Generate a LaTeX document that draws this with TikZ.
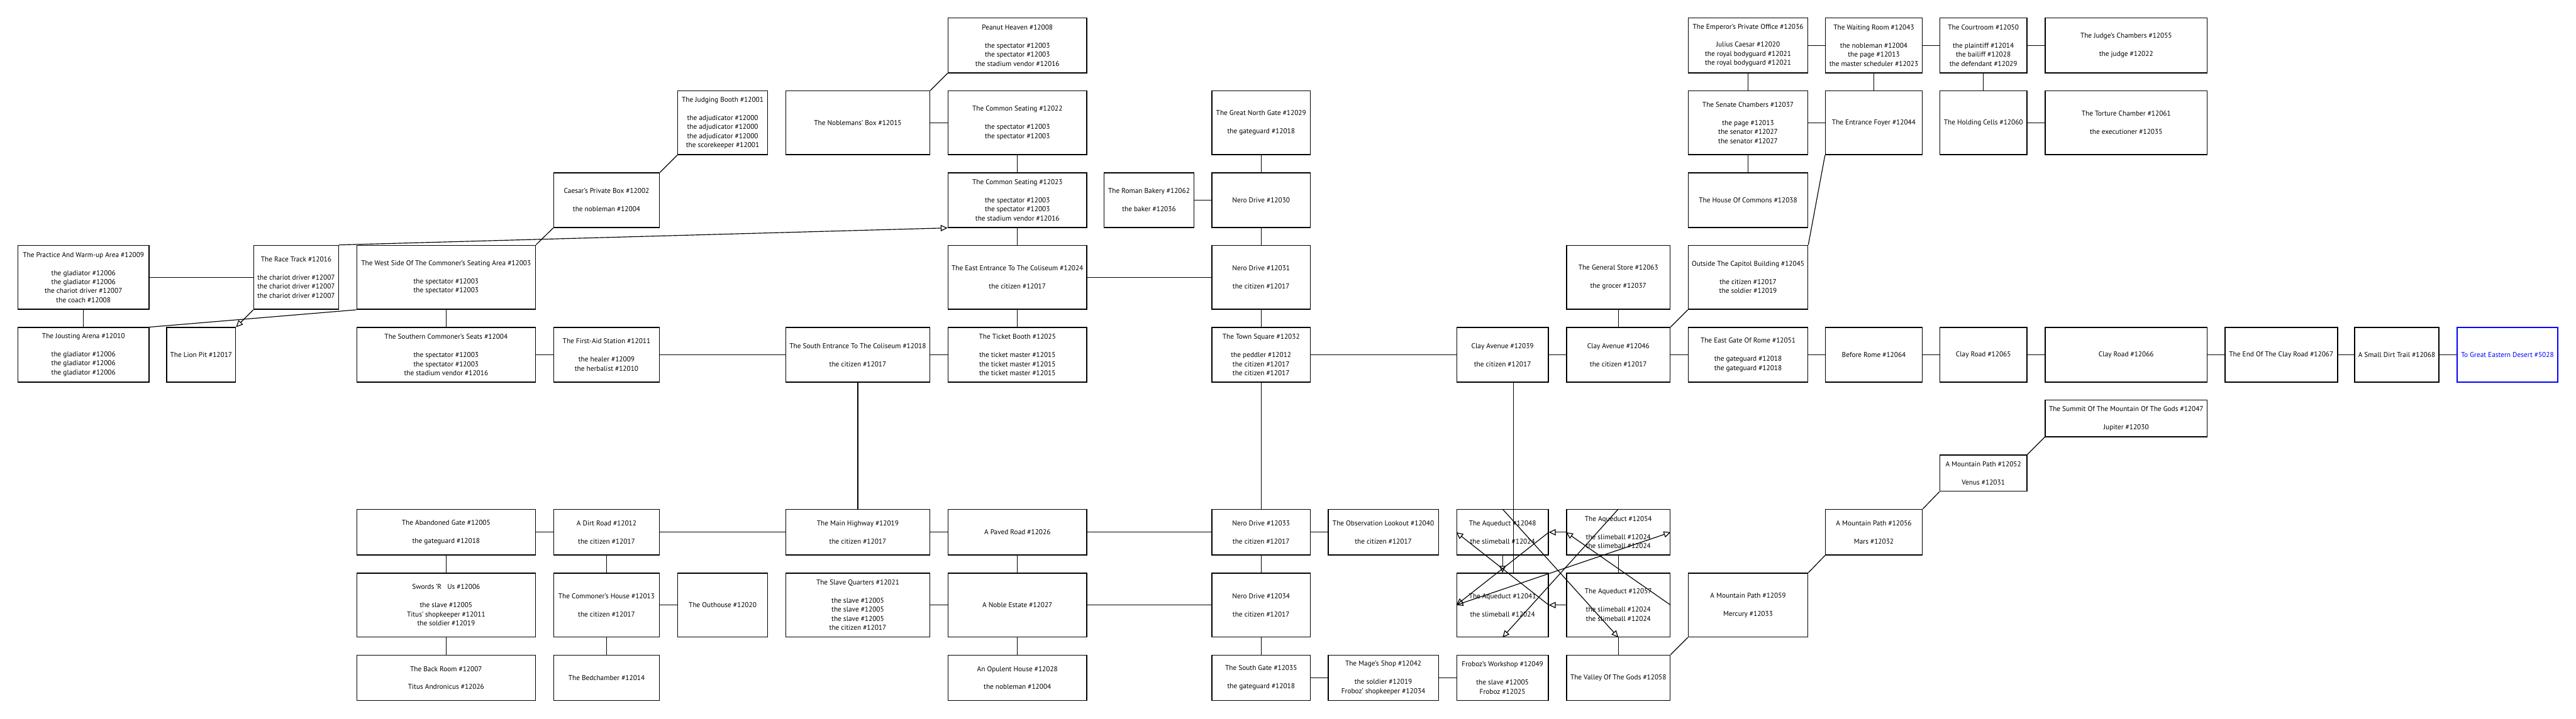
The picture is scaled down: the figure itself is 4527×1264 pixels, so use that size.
\documentclass[tikz,border=0pt]{standalone}
\usepackage{fontspec}
\setmainfont{PT Sans}
\usetikzlibrary{arrows.meta}
\tikzset{
  room/.style={draw=black, line width=1.6pt, inner sep=0pt, align=center, font=\fontsize{12.5}{16}\selectfont, fill=white},
  exitroom/.style={room, draw=blue, text=blue},
  link/.style={line width=1.3pt},
  arr/.style={link, -{Triangle[open, length=12pt, width=11pt]}},
  arrboth/.style={link, {Triangle[open, length=12pt, width=11pt]}-{Triangle[open, length=12pt, width=11pt]}}
}
\newcommand\gap{\\[16pt]}
\newcommand\roombox[7][]{\node[room,#1, minimum width={(#5)-(#3)}, minimum height={(#6)-(#4)}] (#2) at ({((#3)+(#5))/2},{((#4)+(#6))/2}) {#7};}
\begin{document}
\begin{tikzpicture}[x=1pt,y=-1pt]
\useasboundingbox (0,0) rectangle (4527,1264);
% ---- rooms ----
\roombox{practice}{31.5}{431.5}{262}{544}{The Practice And Warm-up Area \#12009\gap the gladiator \#12006\\the gladiator \#12006\\the chariot driver \#12007\\the coach \#12008}
\roombox{race}{446}{431.5}{595}{544}{The Race Track \#12016\gap the chariot driver \#12007\\the chariot driver \#12007\\the chariot driver \#12007}
\roombox{west}{627}{431.5}{941}{544}{The West Side Of The Commoner's Seating Area \#12003\gap the spectator \#12003\\the spectator \#12003}
\roombox{joust}{31.5}{576}{262}{672}{The Jousting Arena \#12010\gap the gladiator \#12006\\the gladiator \#12006\\the gladiator \#12006}
\roombox{lion}{293}{576}{414}{672}{The Lion Pit \#12017}
\roombox{southern}{627}{576}{941}{672}{The Southern Commoner's Seats \#12004\gap the spectator \#12003\\the spectator \#12003\\the stadium vendor \#12016}
\roombox{abandoned}{627}{896}{941}{976}{The Abandoned Gate \#12005\gap the gateguard \#12018}
\roombox{swords}{627}{1008}{941}{1120}{Swords 'R\hspace{10pt}Us \#12006\gap the slave \#12005\\Titus' shopkeeper \#12011\\the soldier \#12019}
\roombox{backroom}{627}{1152}{941}{1232}{The Back Room \#12007\gap Titus Andronicus \#12026}
\roombox{caesar}{973}{304}{1159}{400}{Caesar's Private Box \#12002\gap the nobleman \#12004}
\roombox{judging}{1191}{160}{1349}{272}{The Judging Booth \#12001\gap the adjudicator \#12000\\the adjudicator \#12000\\the adjudicator \#12000\\the scorekeeper \#12001}
\roombox{firstaid}{973}{576}{1159}{672}{The First-Aid Station \#12011\gap the healer \#12009\\the herbalist \#12010}
\roombox{dirt}{973}{896}{1159}{976}{A Dirt Road \#12012\gap the citizen \#12017}
\roombox{commoner}{973}{1008}{1159}{1120}{The Commoner's House \#12013\gap the citizen \#12017}
\roombox{outhouse}{1191}{1008}{1349}{1120}{The Outhouse \#12020}
\roombox{bedchamber}{973}{1152}{1159}{1232}{The Bedchamber \#12014}
\roombox{noblebox}{1381}{160}{1634}{272}{The Noblemans' Box \#12015}
\roombox{southent}{1381}{576}{1634}{672}{The South Entrance To The Coliseum \#12018\gap the citizen \#12017}
\roombox{mainhw}{1381}{896}{1634}{976}{The Main Highway \#12019\gap the citizen \#12017}
\roombox{slaveq}{1381}{1008}{1634}{1120}{The Slave Quarters \#12021\gap the slave \#12005\\the slave \#12005\\the slave \#12005\\the citizen \#12017}
\roombox{peanut}{1666}{31.5}{1910}{128}{Peanut Heaven \#12008\gap the spectator \#12003\\the spectator \#12003\\the stadium vendor \#12016}
\roombox{cs22}{1666}{160}{1910}{272}{The Common Seating \#12022\gap the spectator \#12003\\the spectator \#12003}
\roombox{cs23}{1666}{304}{1910}{400}{The Common Seating \#12023\gap the spectator \#12003\\the spectator \#12003\\the stadium vendor \#12016}
\roombox{eastent}{1666}{431.5}{1910}{544}{The East Entrance To The Coliseum \#12024\gap the citizen \#12017}
\roombox{ticket}{1666}{576}{1910}{672}{The Ticket Booth \#12025\gap the ticket master \#12015\\the ticket master \#12015\\the ticket master \#12015}
\roombox{paved}{1666}{896}{1910}{976}{A Paved Road \#12026}
\roombox{nobleest}{1666}{1008}{1910}{1120}{A Noble Estate \#12027}
\roombox{opulent}{1666}{1152}{1910}{1232}{An Opulent House \#12028\gap the nobleman \#12004}
\roombox{bakery}{1940.5}{304}{2098}{400}{The Roman Bakery \#12062\gap the baker \#12036}
\roombox{northgate}{2129.5}{160}{2303}{272}{The Great North Gate \#12029\gap the gateguard \#12018}
\roombox{nero30}{2129.5}{304}{2303}{400}{Nero Drive \#12030}
\roombox{nero31}{2129.5}{431.5}{2303}{544}{Nero Drive \#12031\gap the citizen \#12017}
\roombox{townsq}{2129.5}{576}{2303}{672}{The Town Square \#12032\gap the peddler \#12012\\the citizen \#12017\\the citizen \#12017}
\roombox{nero33}{2129.5}{896}{2303}{976}{Nero Drive \#12033\gap the citizen \#12017}
\roombox{nero34}{2129.5}{1008}{2303}{1120}{Nero Drive \#12034\gap the citizen \#12017}
\roombox{southgate}{2129.5}{1152}{2303}{1232}{The South Gate \#12035\gap the gateguard \#12018}
\roombox{lookout}{2334}{896}{2528}{976}{The Observation Lookout \#12040\gap the citizen \#12017}
\roombox{mage}{2334}{1152}{2528}{1232}{The Mage's Shop \#12042\gap the soldier \#12019\\Froboz' shopkeeper \#12034}
\roombox{clay39}{2560}{576}{2721}{672}{Clay Avenue \#12039\gap the citizen \#12017}
\roombox{aq48}{2560}{896}{2721}{976}{The Aqueduct \#12048\gap the slimeball \#12024}
\roombox{aq41}{2560}{1008}{2721}{1120}{The Aqueduct \#12041\gap the slimeball \#12024}
\roombox{froboz}{2560}{1152}{2721}{1232}{Froboz's Workshop \#12049\gap the slave \#12005\\Froboz \#12025}
\roombox{store}{2753}{431.5}{2935}{544}{The General Store \#12063\gap the grocer \#12037}
\roombox{clay46}{2753}{576}{2935}{672}{Clay Avenue \#12046\gap the citizen \#12017}
\roombox{aq54}{2753}{896}{2935}{976}{The Aqueduct \#12054\gap the slimeball \#12024\\the slimeball \#12024}
\roombox{aq57}{2753}{1008}{2935}{1120}{The Aqueduct \#12057\gap the slimeball \#12024\\the slimeball \#12024}
\roombox{valley}{2753}{1152}{2935}{1232}{The Valley Of The Gods \#12058}
\roombox{emperor}{2967}{31.5}{3177}{128}{The Emperor's Private Office \#12036\gap Julius Caesar \#12020\\the royal bodyguard \#12021\\the royal bodyguard \#12021}
\roombox{senate}{2967}{160}{3177}{272}{The Senate Chambers \#12037\gap the page \#12013\\the senator \#12027\\the senator \#12027}
\roombox{commons}{2967}{304}{3177}{400}{The House Of Commons \#12038}
\roombox{capitol}{2967}{431.5}{3177}{544}{Outside The Capitol Building \#12045\gap the citizen \#12017\\the soldier \#12019}
\roombox{eastgate}{2967}{576}{3177}{672}{The East Gate Of Rome \#12051\gap the gateguard \#12018\\the gateguard \#12018}
\roombox{mp59}{2967}{1008}{3177}{1120}{A Mountain Path \#12059\gap Mercury \#12033}
\roombox{waiting}{3208}{31.5}{3378}{128}{The Waiting Room \#12043\gap the nobleman \#12004\\the page \#12013\\the master scheduler \#12023}
\roombox{foyer}{3208}{160}{3378}{272}{The Entrance Foyer \#12044}
\roombox{beforerome}{3208}{576}{3378}{672}{Before Rome \#12064}
\roombox{mp56}{3208}{896}{3378}{976}{A Mountain Path \#12056\gap Mars \#12032}
\roombox{court}{3409}{31.5}{3562}{128}{The Courtroom \#12050\gap the plaintiff \#12014\\the bailiff \#12028\\the defendant \#12029}
\roombox{holding}{3409}{160}{3562}{272}{The Holding Cells \#12060}
\roombox{clay65}{3409}{576}{3562}{672}{Clay Road \#12065}
\roombox{mp52}{3409}{800}{3562}{864}{A Mountain Path \#12052\gap Venus \#12031}
\roombox{judge}{3594}{31.5}{3879}{128}{The Judge's Chambers \#12055\gap the judge \#12022}
\roombox{torture}{3594}{160}{3879}{272}{The Torture Chamber \#12061\gap the executioner \#12035}
\roombox{clay66}{3594}{576}{3879}{672}{Clay Road \#12066}
\roombox{summit}{3594}{703.5}{3879}{768}{The Summit Of The Mountain Of The Gods \#12047\gap Jupiter \#12030}
\roombox{endclay}{3910}{576}{4108}{672}{The End Of The Clay Road \#12067}
\roombox{trail}{4138}{576}{4286}{672}{A Small Dirt Trail \#12068}
\roombox[exitroom]{desert}{4318}{576}{4495}{672}{To Great Eastern Desert \#5028}
% ---- connectors ----
\begin{scope}[link]
\draw (practice.east) -- (race.west);
\draw (practice.south) -- (joust.north);
\draw (west.south west) -- (joust.north east);
\draw (west.north east) -- (caesar.south west);
\draw (caesar.north east) -- (judging.south west);
\draw (west.south) -- (southern.north);
\draw (southern.east) -- (firstaid.west);
\draw (firstaid.east) -- (southent.west);
\draw (southent.east) -- (ticket.west);
\draw (southent.south) -- (mainhw.north);
\draw (noblebox.north east) -- (peanut.south west);
\draw (noblebox.east) -- (cs22.west);
\draw (cs22.south) -- (cs23.north);
\draw (cs23.south) -- (eastent.north);
\draw (eastent.south) -- (ticket.north);
\draw (eastent.east) -- (nero31.west);
\draw (bakery.east) -- (nero30.west);
\draw (northgate.south) -- (nero30.north);
\draw (nero30.south) -- (nero31.north);
\draw (nero31.south) -- (townsq.north);
\draw (townsq.south) -- (nero33.north);
\draw (townsq.east) -- (clay39.west);
\draw (abandoned.east) -- (dirt.west);
\draw (dirt.east) -- (mainhw.west);
\draw (abandoned.south) -- (swords.north);
\draw (swords.south) -- (backroom.north);
\draw (dirt.south) -- (commoner.north);
\draw (commoner.south) -- (bedchamber.north);
\draw (commoner.east) -- (outhouse.west);
\draw (mainhw.east) -- (paved.west);
\draw (slaveq.east) -- (nobleest.west);
\draw (paved.south) -- (nobleest.north);
\draw (nobleest.south) -- (opulent.north);
\draw (paved.east) -- (nero33.west);
\draw (nobleest.east) -- (nero34.west);
\draw (nero33.south) -- (nero34.north);
\draw (nero34.south) -- (southgate.north);
\draw (nero33.east) -- (lookout.west);
\draw (southgate.east) -- (mage.west);
\draw (mage.east) -- (froboz.west);
\draw (clay39.east) -- (clay46.west);
\draw (store.south) -- (clay46.north);
\draw (clay46.north east) -- (capitol.south west);
\draw (clay46.east) -- (eastgate.west);
\draw (capitol.north east) -- (foyer.south west);
\draw (emperor.east) -- (waiting.west);
\draw (waiting.east) -- (court.west);
\draw (court.east) -- (judge.west);
\draw (emperor.south) -- (senate.north);
\draw (senate.south) -- (commons.north);
\draw (waiting.south) -- (foyer.north);
\draw (senate.east) -- (foyer.west);
\draw (court.south) -- (holding.north);
\draw (holding.east) -- (torture.west);
\draw (eastgate.east) -- (beforerome.west);
\draw (beforerome.east) -- (clay65.west);
\draw (clay65.east) -- (clay66.west);
\draw (clay66.east) -- (endclay.west);
\draw (endclay.east) -- (trail.west);
\draw (trail.east) -- (desert.west);
\draw (valley.north east) -- (mp59.south west);
\draw (mp59.north east) -- (mp56.south west);
\draw (mp56.north east) -- (mp52.south west);
\draw (mp52.north east) -- (summit.south west);
\draw ([xshift=19.5pt]clay39.south) -- ([xshift=19.5pt]aq41.north);
\draw (aq54.south) -- (aq57.north);
\draw (aq57.south) -- (valley.north);
\end{scope}
\draw[arr] (race.north east) -- (cs23.south west);
\draw[arr] (race.south west) -- (lion.north east);
\draw[arr] (aq48.north) -- (aq57.south);
\draw[arr] (aq54.north) -- (aq41.south);
\draw[arr] (aq54.west) -- (aq48.east);
\draw[arr] (aq57.east) -- (aq54.west);
\draw[arr] (aq41.east) -- (aq48.west);
\draw[arr] (aq57.west) -- (aq41.east);
\draw[arr] (aq48.south) -- (aq41.north);
\draw[arr] (aq48.east) -- (aq41.west);
\draw[arrboth] (aq54.east) -- (aq41.west);
\end{tikzpicture}
\end{document}
